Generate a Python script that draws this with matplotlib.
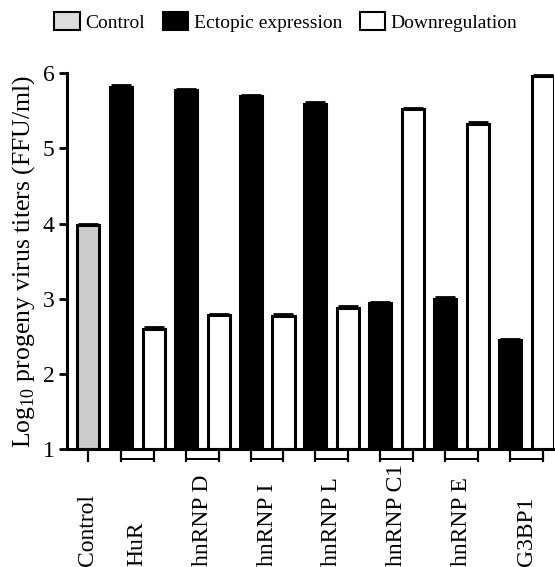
import matplotlib
matplotlib.use("Agg")
import matplotlib.pyplot as plt
import matplotlib.transforms as mtransforms
from matplotlib.patches import Patch

plt.rcParams["font.family"] = ["Liberation Serif", "DejaVu Serif"]
plt.rcParams["mathtext.fontset"] = "custom"
plt.rcParams["mathtext.rm"] = "Liberation Serif"

# data
groups = ["HuR", "hnRNP D", "hnRNP I", "hnRNP L", "hnRNP C1", "hnRNP E", "G3BP1"]
control_value = 3.98
control_err = 0.02
ectopic = [5.82, 5.77, 5.69, 5.59, 2.94, 3.00, 2.45]
ectopic_err = [0.02, 0.02, 0.02, 0.02, 0.02, 0.02, 0.02]
downreg = [2.60, 2.78, 2.77, 2.88, 5.52, 5.33, 5.96]
downreg_err = [0.02, 0.02, 0.02, 0.02, 0.02, 0.02, 0.02]
yticks = [1, 2, 3, 4, 5, 6]

fig = plt.figure(figsize=(5.55, 5.67), dpi=100)
ax = fig.add_axes([0.121, 0.208, 0.877, 0.663])

off = 0.254
w = 0.34
lw = 2.2
x_ctrl = 1 - 3 * off
x_ect = [i + 1 - off for i in range(len(groups))]
x_dwn = [i + 1 + off for i in range(len(groups))]

ax.bar([x_ctrl], [control_value - 1], bottom=1, width=w, color="#cccccc",
       edgecolor="black", linewidth=lw, zorder=2)
ax.bar(x_ect, [v - 1 for v in ectopic], bottom=1, width=w, color="black",
       edgecolor="black", linewidth=lw, zorder=2)
ax.bar(x_dwn, [v - 1 for v in downreg], bottom=1, width=w, color="white",
       edgecolor="black", linewidth=lw, zorder=2)

xs = [x_ctrl] + x_ect + x_dwn
ys = [control_value] + ectopic + downreg
es = [control_err] + ectopic_err + downreg_err
ax.errorbar(xs, ys, yerr=[[0] * len(es), es], fmt="none", ecolor="black",
            elinewidth=lw, capsize=7, capthick=2, zorder=3, clip_on=False)

ax.set_ylim(1, 6)
ax.set_xlim(x_ctrl - 0.32, x_dwn[-1] + 0.17)
ax.set_yticks(yticks)
ax.set_yticklabels([str(t) for t in yticks], fontsize=17)
ax.set_xticks(xs)
ax.set_xticklabels([])

for s in ["top", "right"]:
    ax.spines[s].set_visible(False)
ax.spines["left"].set_linewidth(2.2)
ax.spines["bottom"].set_linewidth(2.2)
ax.tick_params(axis="y", length=6, width=2.0, pad=3)
ax.tick_params(axis="x", length=9, width=1.6)

ax.set_ylabel(r"Log$_{10}$ progeny virus titers (FFU/ml)", fontsize=18.5, labelpad=4)

# brackets joining each pair of ticks, and group labels
trans = mtransforms.blended_transform_factory(ax.transData, ax.transAxes)
for xe, xd in zip(x_ect, x_dwn):
    ax.plot([xe, xd], [-0.027, -0.027], color="black", lw=1.4,
            transform=trans, clip_on=False)

ftrans = mtransforms.blended_transform_factory(ax.transData, fig.transFigure)
label_x = [x_ctrl] + [(a + b) / 2 for a, b in zip(x_ect, x_dwn)]
for x, name in zip(label_x, ["Control"] + groups):
    ax.text(x, 0.002, name, rotation=90, ha="center", va="bottom",
            fontsize=17, transform=ftrans)

handles = [
    Patch(facecolor="#dddddd", edgecolor="black", linewidth=1.5, label="Control"),
    Patch(facecolor="black", edgecolor="black", linewidth=1.5, label="Ectopic expression"),
    Patch(facecolor="white", edgecolor="black", linewidth=1.5, label="Downregulation"),
]
fig.legend(handles=handles, loc="center", bbox_to_anchor=(0.515, 0.962), ncol=3,
           frameon=False, fontsize=14, handlelength=1.3, handleheight=1.1,
           handletextpad=0.3, columnspacing=0.9, borderaxespad=0)

fig.savefig("out.png", dpi=100)
